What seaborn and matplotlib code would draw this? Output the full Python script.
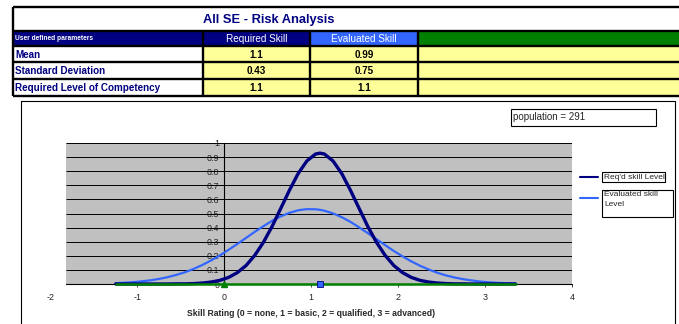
import matplotlib
matplotlib.use('Agg')
import matplotlib.pyplot as plt
from matplotlib.patches import Rectangle
import pandas as pd
import seaborn as sns

# Table contents
title = 'All SE - Risk Analysis'
header = ['User defined parameters', 'Required Skill', 'Evaluated Skill', '']
row_labels = ['Mean', 'Standard Deviation', 'Required Level of Competency']
required_skill = ['1.1', '0.43', '1.1']
evaluated_skill = ['0.99', '0.75', '1.1']
population = 291

# Curves
x_vals = [-1.25, -1.15, -1.05, -0.95, -0.85, -0.75, -0.65, -0.55, -0.45, -0.35,
          -0.25, -0.15, -0.05, 0.05, 0.15, 0.25, 0.35, 0.45, 0.55, 0.65,
          0.75, 0.85, 0.95, 1.05, 1.1, 1.15, 1.25, 1.35, 1.45, 1.55,
          1.65, 1.75, 1.85, 1.95, 2.05, 2.15, 2.25, 2.35, 2.45, 2.55,
          2.65, 2.75, 2.85, 2.95, 3.05, 3.15, 3.25, 3.35]
reqd_level = [0.000, 0.000, 0.000, 0.000, 0.000, 0.000, 0.000, 0.001, 0.001, 0.003,
              0.007, 0.014, 0.026, 0.047, 0.081, 0.131, 0.203, 0.296, 0.409, 0.537,
              0.666, 0.784, 0.873, 0.922, 0.928, 0.922, 0.873, 0.784, 0.666, 0.537,
              0.409, 0.296, 0.203, 0.131, 0.081, 0.047, 0.026, 0.014, 0.007, 0.003,
              0.001, 0.001, 0.000, 0.000, 0.000, 0.000, 0.000, 0.000]
eval_level = [0.006, 0.009, 0.013, 0.019, 0.026, 0.036, 0.049, 0.065, 0.084, 0.108,
              0.136, 0.168, 0.203, 0.243, 0.284, 0.327, 0.370, 0.410, 0.448, 0.480,
              0.505, 0.523, 0.531, 0.530, 0.526, 0.520, 0.501, 0.474, 0.441, 0.402,
              0.361, 0.318, 0.276, 0.234, 0.196, 0.161, 0.130, 0.103, 0.080, 0.061,
              0.046, 0.034, 0.025, 0.017, 0.012, 0.008, 0.006, 0.004]
base_x = [-1.25, 3.35]
base_y = [0, 0]
marker_req_x = [1.1]
marker_third_x = [0]

NAVY = '#000080'
BLUE = '#3366FF'
GREEN = '#008000'
YELLOW = '#FFFF99'
GRAY = '#C0C0C0'

sns.set_style('white')
plt.rcParams['font.family'] = ['Liberation Sans', 'DejaVu Sans']

W, H = 679, 324
fig = plt.figure(figsize=(W / 100, H / 100), dpi=100)

# background axes in pixel coords for the table and boxes
bg = fig.add_axes([0, 0, 1, 1])
bg.set_xlim(0, W)
bg.set_ylim(H, 0)
bg.axis('off')

cols = [13, 203, 310, 418, 682]
rows = [7, 31, 46, 62, 79, 96]

# header fills
for i, c in enumerate([NAVY, NAVY, BLUE, GREEN]):
    bg.add_patch(Rectangle((cols[i], rows[1]), cols[i + 1] - cols[i], rows[2] - rows[1], color=c, lw=0))
for r in range(3):
    bg.add_patch(Rectangle((cols[1], rows[r + 2]), cols[4] - cols[1], rows[r + 3] - rows[r + 2], color=YELLOW, lw=0))

bg.hlines(rows, cols[0], cols[4], color='black', lw=1.7)
bg.vlines(cols[0], rows[0], rows[-1], color='black', lw=1.7)
bg.vlines(cols[1:4], rows[1], rows[-1], color='black', lw=1.7)

bg.text(269, (rows[0] + rows[1]) / 2 + 0.5, title, ha='center', va='center',
        fontsize=9.3, fontweight='bold', color=NAVY)
hy = (rows[1] + rows[2]) / 2
bg.text(15, hy, header[0], ha='left', va='center', fontsize=4.8, fontweight='bold', color='white')
bg.text((cols[1] + cols[2]) / 2, hy, header[1], ha='center', va='center', fontsize=7.2, color='white')
bg.text((cols[2] + cols[3]) / 2, hy, header[2], ha='center', va='center', fontsize=7.2, color='white')
for r, lab in enumerate(row_labels):
    cy = (rows[r + 2] + rows[r + 3]) / 2 + 0.5
    bg.text(15, cy, lab, ha='left', va='center', fontsize=7.1, fontweight='bold', color=NAVY)
    bg.text((cols[1] + cols[2]) / 2, cy, required_skill[r], ha='center', va='center',
            fontsize=7.1, fontweight='bold', color='black')
    bg.text((cols[2] + cols[3]) / 2, cy, evaluated_skill[r], ha='center', va='center',
            fontsize=7.1, fontweight='bold', color='black')

# chart frame, population box, legend
bg.add_patch(Rectangle((21, 101), 654, 300, fill=False, ec='black', lw=0.8))
bg.add_patch(Rectangle((511, 109), 145, 17, fc='white', ec='black', lw=0.8))
bg.text(513, 117.5, f'population = {population}', ha='left', va='center', fontsize=7)
bg.plot([580, 598], [177, 177], color=NAVY, lw=1.5)
bg.plot([580, 598], [198, 198], color=BLUE, lw=1.5)
bg.add_patch(Rectangle((602, 172), 63, 10, fc='white', ec='black', lw=0.8))
bg.add_patch(Rectangle((602, 190), 71, 27, fc='white', ec='black', lw=0.8))
bg.text(604, 177.3, "Req'd skill Level", ha='left', va='center', fontsize=6)
bg.text(604, 191.5, 'Evaluated skill\nLevel', ha='left', va='top', fontsize=6, linespacing=1.55)

# chart axes
ax = fig.add_axes([50.5 / W, (H - 284) / H, 521.5 / W, 141 / H])
ax.set_facecolor('none')
ax.set_xlim(-2, 4)
ax.set_ylim(0, 1)
ax.axvspan(-1.82, 4, color=GRAY, zorder=0, lw=0)
yt = [0, 0.1, 0.2, 0.3, 0.4, 0.5, 0.6, 0.7, 0.8, 0.9, 1]
ax.hlines(yt[1:], -1.82, 4, color='black', lw=0.7, zorder=1)

df = pd.DataFrame({
    'x': x_vals * 2,
    'y': reqd_level + eval_level,
    'series': ["Req'd skill Level"] * len(x_vals) + ['Evaluated skill Level'] * len(x_vals),
})
sns.lineplot(data=df[df.series == 'Evaluated skill Level'], x='x', y='y', color=BLUE,
             lw=1.6, ax=ax, legend=False, clip_on=False, zorder=3)
sns.lineplot(data=df[df.series == "Req'd skill Level"], x='x', y='y', color=NAVY,
             lw=2.4, ax=ax, legend=False, clip_on=False, zorder=4)
ax.plot([-1.82, 4], [0, 0], color='black', lw=0.8, zorder=4, clip_on=False)
ax.plot(base_x, base_y, color=GREEN, lw=1.8, zorder=5, clip_on=False)
ax.plot(marker_third_x, [0], marker='^', color=GREEN, ms=4, zorder=6, clip_on=False)
ax.plot(marker_req_x, [0], marker='s', mfc=BLUE, mec=NAVY, mew=0.6, ms=4, zorder=6, clip_on=False)

for s in ['top', 'right', 'bottom']:
    ax.spines[s].set_visible(False)
ax.spines['left'].set_position(('data', 0))
ax.spines['left'].set_color('black')
ax.spines['left'].set_linewidth(0.8)
ax.spines['left'].set_zorder(2)

ax.set_yticks(yt)
ax.set_yticklabels(['0', '0.1', '0.2', '0.3', '0.4', '0.5', '0.6', '0.7', '0.8', '0.9', '1'])
ax.set_xticks([-2, -1, 0, 1, 2, 3, 4])
ax.set_xticklabels(['-2', '-1', '0', '1', '2', '3', '4'])
ax.tick_params(axis='y', direction='out', length=3, width=0.6, pad=0.5, labelsize=6.4,
               labelcolor='#222222', left=True)
ax.tick_params(axis='x', direction='out', length=2.5, width=0.6, pad=4.2, labelsize=6.4,
               labelcolor='#222222', bottom=True)
ax.xaxis.get_major_ticks()[0].tick1line.set_visible(False)
ax.set_xlabel('Skill Rating (0 = none, 1 = basic, 2 = qualified, 3 = advanced)',
              fontsize=6.2, fontweight='bold', labelpad=4.5)
ax.set_ylabel('')

fig.savefig('out.png', dpi=100)
